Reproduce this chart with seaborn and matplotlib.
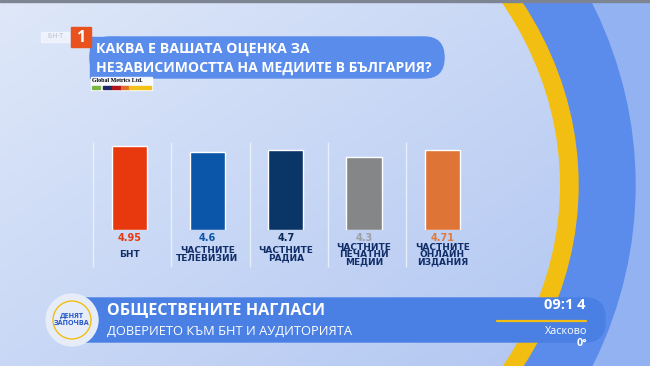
import numpy as np
import pandas as pd
import matplotlib
matplotlib.use("Agg")
import matplotlib.pyplot as plt
import seaborn as sns
from matplotlib.patches import Ellipse, FancyBboxPatch, Rectangle, Circle

# ---- data ----
categories = ["БНТ", "ЧАСТНИТЕ\nТЕЛЕВИЗИИ", "ЧАСТНИТЕ\nРАДИА",
              "ЧАСТНИТЕ\nПЕЧАТНИ\nМЕДИИ", "ЧАСТНИТЕ\nОНЛАЙН\nИЗДАНИЯ"]
values = [4.95, 4.6, 4.7, 4.3, 4.71]
value_labels = ["4.95", "4.6", "4.7", "4.3", "4.71"]
bar_colors = ["#E8390E", "#0B56A9", "#0A3567", "#858688", "#DE7436"]
value_colors = ["#E8390E", "#0B56A9", "#0A2A55", "#9C9EA2", "#E07A3C"]
title_lines = ["КАКВА Е ВАШАТА ОЦЕНКА ЗА", "НЕЗАВИСИМОСТТА НА МЕДИИТЕ В БЪЛГАРИЯ?"]
banner_title = "ОБЩЕСТВЕНИТЕ НАГЛАСИ"
banner_sub = "ДОВЕРИЕТО КЪМ БНТ И АУДИТОРИЯТА"

sns.set_theme(style="white")
plt.rcParams['font.family'] = ['Open Sans', 'DejaVu Sans']

W, H = 650, 366
fig = plt.figure(figsize=(6.5, 3.66), dpi=100)

# ---- background (pixel coordinates) ----
bg = fig.add_axes([0, 0, 1, 1])
bg.set_xlim(0, W)
bg.set_ylim(H, 0)
bg.axis("off")

bg.add_patch(Rectangle((0, 0), W, H, color="#93B2F1", zorder=0))
bg.add_patch(Ellipse((100, 185), 2 * 535, 2 * 460, color="#5C8CEB", zorder=1))
bg.add_patch(Ellipse((100, 185), 2 * 478, 2 * 388, color="#F3BE12", zorder=2))
inner = Ellipse((100, 185), 2 * 460, 2 * 375, color="none", zorder=3)
bg.add_patch(inner)
yy, xx = np.mgrid[0:1:200j, 0:1:300j]
t = 0.55 * xx + 0.45 * yy
c0 = np.array([0xDF, 0xE8, 0xF9]) / 255
c1 = np.array([0xAE, 0xC4, 0xF1]) / 255
img = c0[None, None, :] * (1 - t[..., None]) + c1[None, None, :] * t[..., None]
im = bg.imshow(img, extent=[0, W, H, 0], aspect="auto", zorder=3)
im.set_clip_path(inner)
bg.set_xlim(0, W)
bg.set_ylim(H, 0)
bg.add_patch(Rectangle((0, 0), W, 2, color="#7E8592", zorder=4))

# logo
bg.add_patch(Rectangle((41, 32), 28, 10, color="white", alpha=0.5, zorder=5))
bg.text(55, 37, "Б·Н·Т", fontsize=4.8, color="#B8BCC6", ha="center", va="center", zorder=6)
bg.add_patch(Rectangle((71, 27), 20, 20, color="#E9521E", zorder=6))
bg.text(81, 37.5, "1", fontsize=11.5, color="white", weight="bold", ha="center", va="center", zorder=7)

# title box
bg.add_patch(FancyBboxPatch((90, 37), 354, 41, boxstyle="round,pad=0,rounding_size=20",
                            color="#5A8CEC", zorder=5))
bg.add_patch(Rectangle((90, 37), 30, 41, color="#5A8CEC", zorder=5))
bg.text(96, 49, title_lines[0], fontsize=10.3, color="white", weight="bold", va="center", zorder=6)
bg.text(96, 68, title_lines[1], fontsize=10.1, color="white", weight="bold", va="center", zorder=6)

# Global Metrics
bg.add_patch(Rectangle((91, 77), 61, 13, color="white", alpha=0.85, zorder=5))
bg.text(92, 81, "Global Metrics Ltd.", fontsize=4.3, family="Liberation Serif",
        color="black", weight="bold", va="center", zorder=6)
for x0, w, c in [(92, 8, "#7DB544"), (103, 9, "#1E2A5E"), (112, 9, "#B3141C"),
                 (121, 8, "#E36C2B"), (129, 22, "#F2C21A")]:
    bg.add_patch(Rectangle((x0, 85.5), w, 3.5, color=c, zorder=6))

# lower third banner
bg.add_patch(FancyBboxPatch((60, 298), 545, 44, boxstyle="round,pad=0,rounding_size=20",
                            color="#4A7FE4", zorder=5))
bg.add_patch(Circle((72, 320), 26, color="#E6ECF8", zorder=6))
bg.add_patch(Circle((72, 320), 19, facecolor="none", edgecolor="#F3BE12", lw=1, zorder=7))
bg.text(72, 320, "ДЕНЯТ\nЗАПОЧВА", fontsize=5.2, color="#2255C8", weight="bold",
        ha="center", va="center", linespacing=0.95, zorder=8)
bg.text(107, 310, banner_title, fontsize=11.6, color="white", weight="bold", va="center", zorder=6)
bg.text(107, 331, banner_sub, fontsize=9.3, color="white", va="center", zorder=6)
bg.text(586, 305, "09:1 4", fontsize=10.5, color="white", weight="bold", ha="right", va="center", zorder=6)
bg.plot([497, 586], [321, 321], color="#F3BE12", lw=1.6, zorder=6)
bg.text(587, 331, "Хасково", fontsize=7.8, color="white", ha="right", va="center", zorder=6)
bg.text(587, 343.5, "0°", fontsize=7.8, color="white", weight="bold", ha="right", va="center", zorder=6)

# ---- chart ----
left_px, right_px = 90, 481.5
bottom_px, top_px = 230, 145.25
ax = fig.add_axes([left_px / W, (H - bottom_px) / H, (right_px - left_px) / W,
                   (bottom_px - top_px) / H])
ax.patch.set_alpha(0)
df = pd.DataFrame({"cat": categories, "val": values})
sns.barplot(data=df, x="cat", y="val", hue="cat", palette=bar_colors, legend=False,
            width=0.45, saturation=1, ax=ax, zorder=3)
ax.set_ylim(0, 5)
ax.set_xlim(-0.5, len(categories) - 0.5)
for s in ax.spines.values():
    s.set_visible(False)
ax.set_xticks([])
ax.set_yticks([])
ax.set_xlabel("")
ax.set_ylabel("")

for i, (lab, vl, vc) in enumerate(zip(categories, value_labels, value_colors)):
    ax.vlines(i - 0.46, -2.2, 5.2, color="#E8EEFA", lw=1, clip_on=False, zorder=1)
    ax.text(i, -0.47, vl, fontsize=7, family="DejaVu Sans", color=vc, weight="bold",
            ha="center", va="center", clip_on=False)
    ax.text(i, -1.45, lab, fontsize=6.5, family="DejaVu Sans", color="#112E68",
            weight="bold", ha="center", va="center", linespacing=0.74, clip_on=False)

fig.savefig("out.png", dpi=100)
